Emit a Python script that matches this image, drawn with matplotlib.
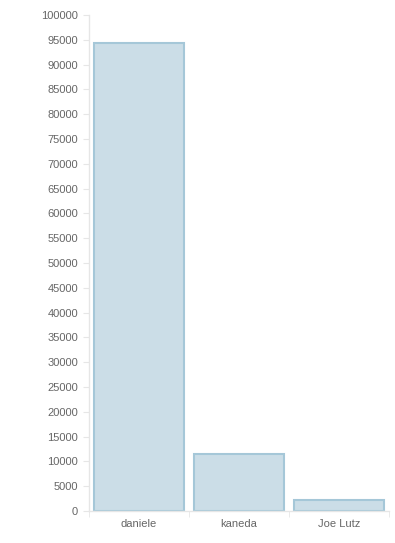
import matplotlib
matplotlib.use('Agg')
import matplotlib.pyplot as plt
import numpy as np

# values
users = ['daniele', 'kaneda', 'Joe Lutz']
counts = [94300, 11500, 2250]
yticks = list(range(0, 100001, 5000))

plt.rcParams['font.family'] = ['Liberation Sans', 'DejaVu Sans']

fig = plt.figure(figsize=(3.95, 5.43), dpi=100)
ax = fig.add_axes([89 / 395, 32 / 543, 300 / 395, 496 / 543])

x = np.arange(len(users))
ax.bar(x, counts, width=0.9, color='#cbdde7', edgecolor='#a5c7d8', linewidth=1.5)

ax.set_xlim(-0.5, len(users) - 0.5)
ax.set_ylim(0, 100000)
ax.set_yticks(yticks)
ax.set_yticklabels([str(v) for v in yticks])
ax.set_xticks(x)
ax.set_xticklabels(users)
ax.set_xticks(np.arange(len(users) + 1) - 0.5, minor=True)

for side in ['top', 'right']:
    ax.spines[side].set_visible(False)
for side in ['left', 'bottom']:
    ax.spines[side].set_color('#e6e6e6')
    ax.spines[side].set_linewidth(1)

ax.tick_params(axis='y', colors='#e6e6e6', labelcolor='#666666', labelsize=8, length=4, pad=4)
ax.tick_params(axis='x', which='major', length=0, labelcolor='#666666', labelsize=8, pad=6)
ax.tick_params(axis='x', which='minor', colors='#e6e6e6', length=4)

fig.savefig('out.png', dpi=100)
